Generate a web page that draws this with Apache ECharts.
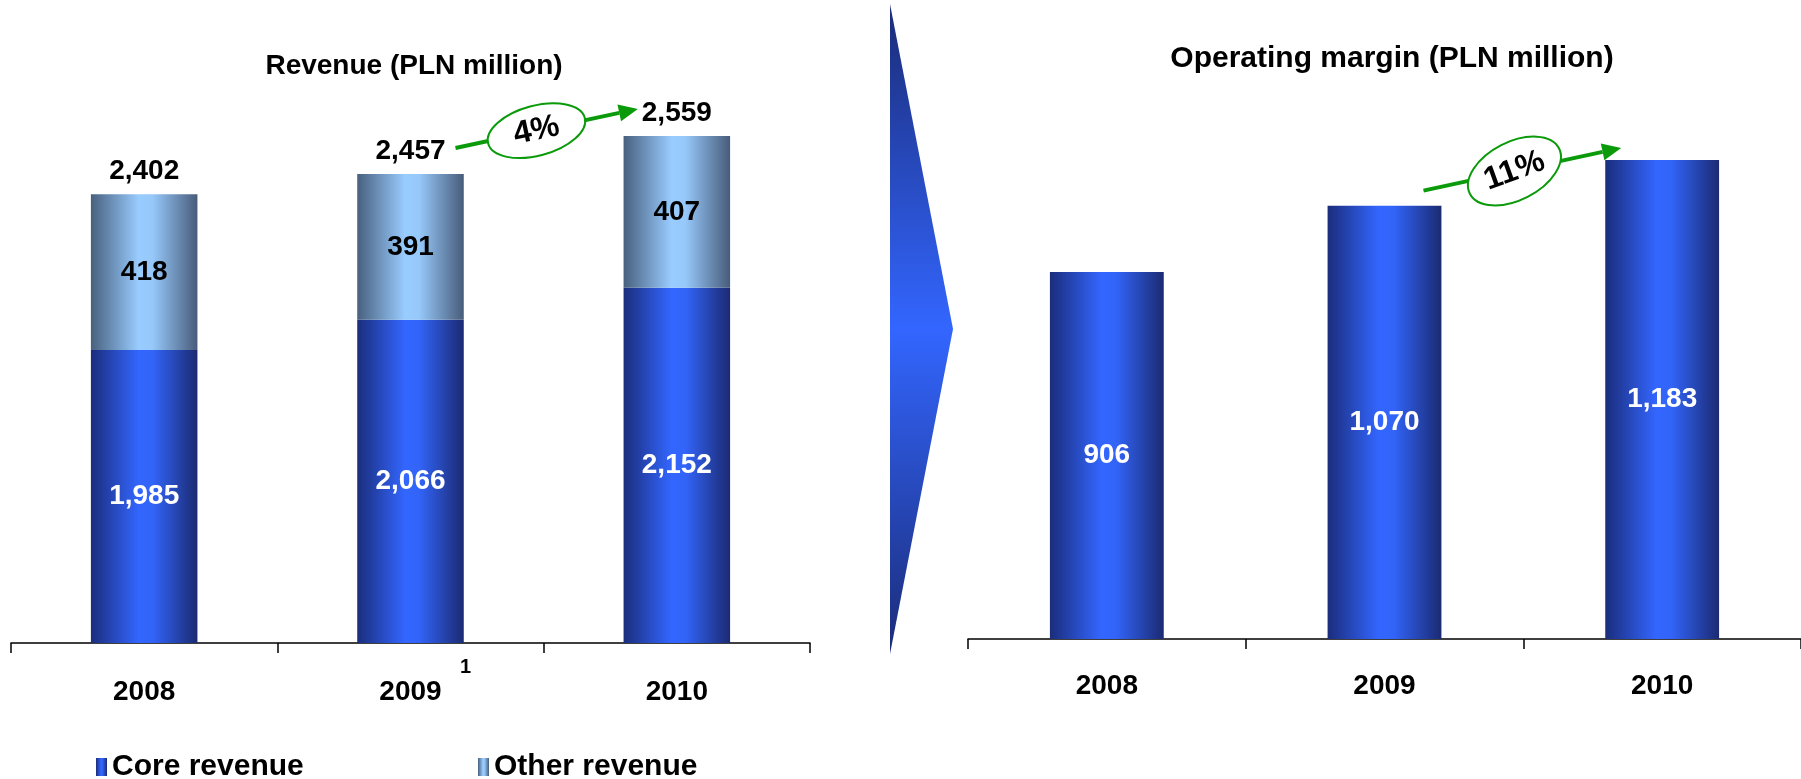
<!DOCTYPE html>
<html>
<head>
<meta charset="utf-8">
<script src="https://cdn.jsdelivr.net/npm/echarts@6/dist/echarts.min.js"></script>
<style>
  html, body { margin: 0; padding: 0; background: #ffffff; }
  #chart { width: 1801px; height: 779px; }
</style>
</head>
<body>
<div id="chart"></div>
<script>
// Years shown on both category axes, with footnote markers per year
const years = ['2008', '2009', '2010'];
const yearNotes = { '2009': '1' };

// Revenue split (PLN million)
const coreRevenue = [1985, 2066, 2152];
const otherRevenue = [418, 391, 407];
const totalRevenue = [2402, 2457, 2559];

// Operating margin (PLN million)
const operatingMargin = [906, 1070, 1183];

// Growth call-outs 2009 -> 2010
const revenueGrowth = '4%';
const marginGrowth = '11%';

const FONT = "'Liberation Sans', Arial, Helvetica, sans-serif";
const GREEN = '#0a9a0a';

const fmt = v => Number(v).toLocaleString('en-US');

function hGrad(stops) {
  return new echarts.graphic.LinearGradient(0, 0, 1, 0,
    stops.map(([offset, color]) => ({ offset, color })));
}
const coreFill = () => hGrad([[0, '#1b2d7c'], [0.45, '#3366ff'], [0.58, '#3264f8'], [1, '#1b2a72']]);
const otherFill = () => hGrad([[0, '#48607e'], [0.45, '#99ccff'], [0.58, '#96c8fa'], [1, '#485c7a']]);

const chart = echarts.init(document.getElementById('chart'), null, { renderer: 'canvas' });

// Year labels; a footnote marker is set as a superscript after the year,
// balanced by an empty spacer so the year itself stays centred
const SUP_GAP = 18, SUP_W = 12, LABEL_LH = 68;
const axisLabelCommon = {
  interval: 0,
  color: '#000',
  fontFamily: FONT,
  fontSize: 28,
  fontWeight: 'bold',
  lineHeight: LABEL_LH,
  formatter: v => yearNotes[v] ? '{pad|}' + v + '{sup|' + yearNotes[v] + '}' : v,
  rich: {
    pad: { width: SUP_GAP + SUP_W, lineHeight: LABEL_LH },
    sup: { fontSize: 20, fontWeight: 'bold', fontFamily: FONT, color: '#000', lineHeight: 18, width: SUP_W, padding: [0, 0, LABEL_LH - 18, SUP_GAP] }
  }
};

const axisTick = { show: true, interval: 0, length: 10, lineStyle: { color: '#000', width: 1.5 } };

const legendText = { color: '#000', fontSize: 30, fontWeight: 'bold', fontFamily: FONT };

const valueLabel = { show: true, fontSize: 28, fontWeight: 'bold', fontFamily: FONT, formatter: p => fmt(p.value) };

const option = {
  backgroundColor: '#ffffff',
  animation: false,
  textStyle: { fontFamily: FONT },
  legend: [
    { data: ['Core revenue'], left: 96, top: 752, icon: 'rect', itemWidth: 11, itemHeight: 18, padding: 0, selectedMode: false, textStyle: legendText },
    { data: ['Other revenue'], left: 478, top: 752, icon: 'rect', itemWidth: 11, itemHeight: 18, padding: 0, selectedMode: false, textStyle: legendText }
  ],
  grid: [
    { left: 11, right: 991, top: 46, bottom: 136 },
    { left: 968, right: -10, top: 31.5, bottom: 140 }
  ],
  xAxis: [
    {
      type: 'category', gridIndex: 0, data: years,
      axisLine: { lineStyle: { color: '#000', width: 1.5 } },
      axisTick: axisTick,
      axisLabel: Object.assign({}, axisLabelCommon, { margin: 15 })
    },
    {
      type: 'category', gridIndex: 1, data: years,
      axisLine: { lineStyle: { color: '#000', width: 1.5 } },
      axisTick: axisTick,
      axisLabel: Object.assign({}, axisLabelCommon, { margin: 13, formatter: v => v })
    }
  ],
  yAxis: [
    { type: 'value', gridIndex: 0, min: 1200, max: 2800, show: false, splitLine: { show: false } },
    { type: 'value', gridIndex: 1, min: 0, max: 1500, show: false, splitLine: { show: false } }
  ],
  series: [
    {
      name: 'Core revenue', type: 'bar', xAxisIndex: 0, yAxisIndex: 0, stack: 'revenue',
      barWidth: '40%', data: coreRevenue, itemStyle: { color: coreFill() },
      label: Object.assign({ position: 'inside', color: '#fff' }, valueLabel)
    },
    {
      name: 'Other revenue', type: 'bar', xAxisIndex: 0, yAxisIndex: 0, stack: 'revenue',
      barWidth: '40%', data: otherRevenue, itemStyle: { color: otherFill() },
      label: Object.assign({ position: 'inside', color: '#000' }, valueLabel)
    },
    {
      name: 'Total', type: 'bar', xAxisIndex: 0, yAxisIndex: 0, barWidth: '40%', barGap: '-100%',
      data: totalRevenue, silent: true, z: 1,
      itemStyle: { color: 'rgba(0,0,0,0)' },
      label: Object.assign({ position: 'top', distance: 9, color: '#000' }, valueLabel)
    },
    {
      name: 'Operating margin', type: 'bar', xAxisIndex: 1, yAxisIndex: 1,
      barWidth: '41%', data: operatingMargin, itemStyle: { color: coreFill() },
      label: Object.assign({ position: 'inside', color: '#fff' }, valueLabel)
    }
  ]
};

chart.setOption(option);

// Growth arrow with a tilted ellipse badge, anchored to two bar tops
function growthArrow(from, to, t, rx, ry, ellRot, textRot, text) {
  const ang = Math.atan2(to[1] - from[1], to[0] - from[0]);
  const headLen = 19, headHalf = 8.5;
  const base = [to[0] - headLen * Math.cos(ang), to[1] - headLen * Math.sin(ang)];
  const nx = -Math.sin(ang), ny = Math.cos(ang);
  const c = [from[0] + (to[0] - from[0]) * t, from[1] + (to[1] - from[1]) * t];
  return [
    { type: 'line', z: 10, shape: { x1: from[0], y1: from[1], x2: base[0], y2: base[1] },
      style: { stroke: GREEN, lineWidth: 4 } },
    { type: 'polygon', z: 10, shape: { points: [to, [base[0] + nx * headHalf, base[1] + ny * headHalf], [base[0] - nx * headHalf, base[1] - ny * headHalf]] },
      style: { fill: GREEN } },
    { type: 'ellipse', z: 11, x: c[0], y: c[1], rotation: ellRot * Math.PI / 180,
      shape: { cx: 0, cy: 0, rx: rx, ry: ry }, style: { fill: '#fff', stroke: GREEN, lineWidth: 2 } },
    { type: 'text', z: 12, x: c[0], y: c[1], rotation: textRot * Math.PI / 180,
      style: { text: text, fill: '#000', fontSize: 32, fontWeight: 'bold', fontFamily: FONT, align: 'center', verticalAlign: 'middle' } }
  ];
}

const off = (p, dx, dy) => [p[0] + dx, p[1] + dy];
const r09 = chart.convertToPixel({ gridIndex: 0 }, [years[1], totalRevenue[1]]);
const r10 = chart.convertToPixel({ gridIndex: 0 }, [years[2], totalRevenue[2]]);
const m09 = chart.convertToPixel({ gridIndex: 1 }, [years[1], operatingMargin[1]]);
const m10 = chart.convertToPixel({ gridIndex: 1 }, [years[2], operatingMargin[2]]);

const graphics = [
  // Chart titles
  { type: 'text', x: 414, y: 66, style: { text: 'Revenue (PLN million)', fill: '#000', fontSize: 28, fontWeight: 'bold', fontFamily: FONT, align: 'center', verticalAlign: 'middle' } },
  { type: 'text', x: 1392, y: 59, style: { text: 'Operating margin (PLN million)', fill: '#000', fontSize: 30, fontWeight: 'bold', fontFamily: FONT, align: 'center', verticalAlign: 'middle' } },
  // Divider chevron pointing from revenue to margin
  { type: 'polygon', shape: { points: [[890, 4], [953, 329], [890, 654]] },
    style: { fill: new echarts.graphic.LinearGradient(0, 0, 0, 1, [
      { offset: 0, color: '#1b2c78' }, { offset: 0.5, color: '#3366ff' }, { offset: 1, color: '#1b2c78' }]) } }
].concat(
  growthArrow(off(r09, 45, -26), off(r10, -39, -27), 0.444, 50, 25, 15, 12, revenueGrowth),
  growthArrow(off(m09, 39, -15), off(m10, -41, -12), 0.46, 50, 29, 27, 20, marginGrowth)
);

chart.setOption({ graphic: graphics });
</script>
</body>
</html>
